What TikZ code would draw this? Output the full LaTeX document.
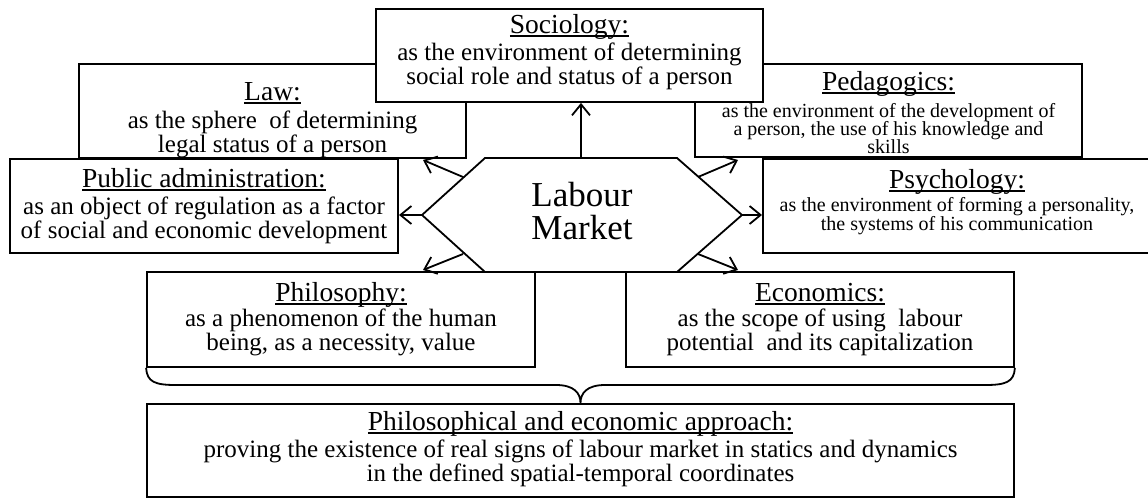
\documentclass[tikz,border=0pt]{standalone}
\usepackage{fontspec}
\setmainfont{Liberation Serif}
\usetikzlibrary{arrows.meta}
\newcommand\ttl[1]{{\fontsize{27.5}{28}\selectfont\setbox0\hbox{#1}\rlap{\rule[-3.6pt]{\wd0}{1.3pt}}\box0}}
\newcommand\txt[2]{\vtop{\baselineskip=#1\lineskiplimit=-100pt\lineskip=0pt\halign{\hfil##\hfil\cr#2\crcr}}}
\newcommand\gp[1]{\noalign{\vskip#1}}
\begin{document}
\begin{tikzpicture}[x=1pt,y=-1pt,
  box/.style={draw, line width=1.8pt, fill=white, rectangle, inner sep=0pt},
  txtb/.style={inner sep=0pt, anchor=base, font=\fontsize{25}{25}\selectfont},
  txts/.style={inner sep=0pt, anchor=base, font=\fontsize{20}{20}\selectfont},
  arr/.style={line width=1.8pt, -{Straight Barb[length=11pt,width=18pt,line width=1.8pt]}},
  hexa/.style={line width=1.8pt, line join=miter},
  brace/.style={line width=1.8pt}
]
\useasboundingbox (0,0) rectangle (1148,498);
\clip (0,0) rectangle (1148,498);

% ---- boxes (Sociology overlaps Law and Pedagogics)
\node[box, minimum width=387pt, minimum height=94pt] (law) at (272.5,111) {};
\node[box, minimum width=387pt, minimum height=93pt] (ped) at (888.5,110.5) {};
\node[box, minimum width=387pt, minimum height=93pt] (soc) at (569.5,55.5) {};
\node[box, minimum width=388pt, minimum height=94pt] (pub) at (204,206) {};
\node[box, minimum width=388pt, minimum height=94pt] (psy) at (957,206) {};
\node[box, minimum width=388pt, minimum height=95pt] (phil) at (341,319.5) {};
\node[box, minimum width=388pt, minimum height=95pt] (econ) at (820,319.5) {};
\node[box, minimum width=867pt, minimum height=93pt] (bot) at (580.5,450.5) {};

% ---- texts
\node[txtb] (soct) at (569.5,33) {\txt{24pt}{\ttl{Sociology:}\cr\gp{3pt}
  as the environment of determining\cr
  social role and status of a person}};
\node[txtb] (lawt) at (272.5,100) {\txt{24pt}{\ttl{Law:}\cr\gp{4pt}
  as the sphere\ \ of determining\cr
  legal status of a person}};
\node[txts] (pedt) at (888.5,90) {\txt{18pt}{\ttl{Pedagogics:}\cr\gp{9pt}
  as the environment of the development of\cr
  a person, the use of his knowledge and\cr
  skills}};
\node[txtb] (pubt) at (204,187) {\txt{24pt}{\ttl{Public administration:}\cr\gp{3pt}
  as an object of regulation as a factor\cr
  of social and economic development}};
\node[txts] (psyt) at (957,188) {\txt{19pt}{\ttl{Psychology:}\cr\gp{4pt}
  as the environment of forming a personality,\cr
  the systems of his communication}};
\node[txtb] (philt) at (341,301) {\txt{24.5pt}{\ttl{Philosophy:}\cr\gp{0.5pt}
  as a phenomenon of the human\cr
  being, as a necessity, value}};
\node[txtb] (econt) at (820,301) {\txt{24.5pt}{\ttl{Economics:}\cr\gp{0.5pt}
  as the scope of using\ \ labour\cr
  potential\ \ and its capitalization}};
\node[txtb] (bott) at (580.5,430) {\txt{24pt}{\ttl{Philosophical and economic approach:}\cr\gp{3pt}
  proving the existence of real signs of labour market in statics and dynamics\cr
  in the defined spatial-temporal coordinates}};

% ---- hexagon
\coordinate (h1) at (485,158);
\coordinate (h2) at (677,158);
\coordinate (h3) at (742,215);
\coordinate (h4) at (677,272);
\coordinate (h5) at (485,272);
\coordinate (h6) at (422,215);
\draw[hexa] (h1) -- (h2) -- (h3) -- (h4) -- (h5) -- (h6) -- cycle;
\node[font=\fontsize{35}{33}\selectfont, align=center] (lm) at (582,211) {Labour\\Market};

% ---- arrow anchors
\coordinate (hTop) at (581,158);
\coordinate (sUL) at (463,177);
\coordinate (sLL) at (463,254);
\coordinate (sUR) at (698,177);
\coordinate (sLR) at (698,254);
\coordinate (tUL) at (423,160);
\coordinate (tLL) at (423,270);
\coordinate (tUR) at (738,160);
\coordinate (tLR) at (738,270);
\coordinate (tL) at (399,215);
\coordinate (tR) at (762,215);

\draw[arr] (hTop) -- (soc.south -| hTop);
\draw[arr] (sUL) -- (tUL);
\draw[arr] (sLL) -- (tLL);
\draw[arr] (sUR) -- (tUR);
\draw[arr] (sLR) -- (tLR);
\draw[arr] (h6) -- (tL);
\draw[arr] (h3) -- (tR);

% ---- brace
\draw[brace] (phil.south west) .. controls (147,382) and (155,385) .. (176,385)
  -- (556,385) .. controls (574,385) and (580.5,393) .. (bot.north)
  .. controls (580.5,393) and (587,385) .. (605,385)
  -- (985,385) .. controls (1006,385) and (1014,382) .. (econ.south east);
\end{tikzpicture}
\end{document}
